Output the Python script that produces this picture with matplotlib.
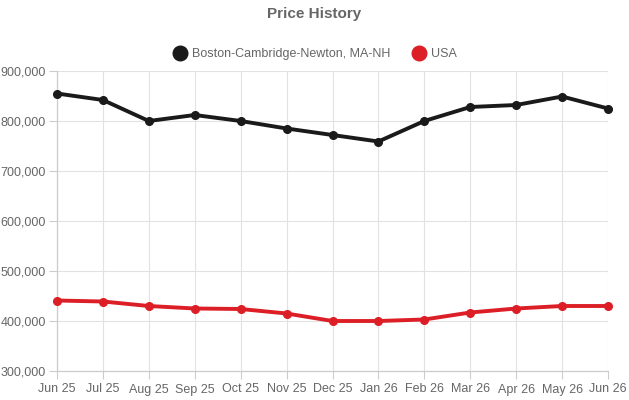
import matplotlib
matplotlib.use("Agg")
import matplotlib.pyplot as plt
from matplotlib.ticker import FuncFormatter
from matplotlib.lines import Line2D

plt.rcParams['font.family'] = ['Liberation Sans', 'DejaVu Sans']

months = ["Jun 25", "Jul 25", "Aug 25", "Sep 25", "Oct 25", "Nov 25", "Dec 25",
          "Jan 26", "Feb 26", "Mar 26", "Apr 26", "May 26", "Jun 26"]
boston = [855000, 842000, 800000, 812000, 800000, 785000, 772000,
          759000, 800000, 828000, 832000, 849000, 825000]
usa = [441000, 439000, 430000, 425000, 424000, 415000, 400000,
       400000, 403000, 417000, 425000, 430000, 430000]

BLACK = "#1a1a1a"
RED = "#dc1f26"
GREY = "#666666"
GRID = "#e2e2e2"

fig = plt.figure(figsize=(6.29, 4.0), dpi=100)
ax = fig.add_axes([57 / 629, 29 / 400, 551 / 629, 300 / 400])

x = list(range(len(months)))
ax.plot(x, boston, color=BLACK, lw=2.8, marker="o", ms=5.5, clip_on=False, zorder=3)
ax.plot(x, usa, color=RED, lw=2.8, marker="o", ms=5.5, clip_on=False, zorder=3)

ax.set_xlim(0, len(months) - 1)
ax.set_ylim(300000, 900000)
ax.set_xticks(x)
ax.set_xticklabels(months)
ax.set_yticks(range(300000, 900001, 100000))
ax.yaxis.set_major_formatter(FuncFormatter(lambda v, p: f"{int(v):,}"))

ax.grid(True, color=GRID, lw=0.8)
ax.set_axisbelow(True)
for s in ["top", "right"]:
    ax.spines[s].set_visible(False)
for s in ["left", "bottom"]:
    ax.spines[s].set_color("#cccccc")
    ax.spines[s].set_linewidth(0.9)
ax.tick_params(axis="both", colors="#cccccc", labelcolor=GREY, labelsize=9, length=6, width=0.8)
ax.tick_params(axis="x", pad=3)
ax.tick_params(axis="y", pad=2)

fig.text(0.5, 1 - 14 / 400, "Price History", ha="center", va="center",
         fontsize=11, fontweight="bold", color=GREY)

handles = [
    Line2D([], [], ls="none", marker="o", ms=10.5, color=BLACK, label="Boston-Cambridge-Newton, MA-NH"),
    Line2D([], [], ls="none", marker="o", ms=10.5, color=RED, label="USA"),
]
fig.legend(handles=handles, loc="center", bbox_to_anchor=(0.5, 1 - 54 / 400), ncol=2,
           frameon=False, fontsize=9, labelcolor=GREY, handletextpad=0.35,
           columnspacing=1.6, handlelength=1.3)

fig.savefig("out.png", dpi=100)
